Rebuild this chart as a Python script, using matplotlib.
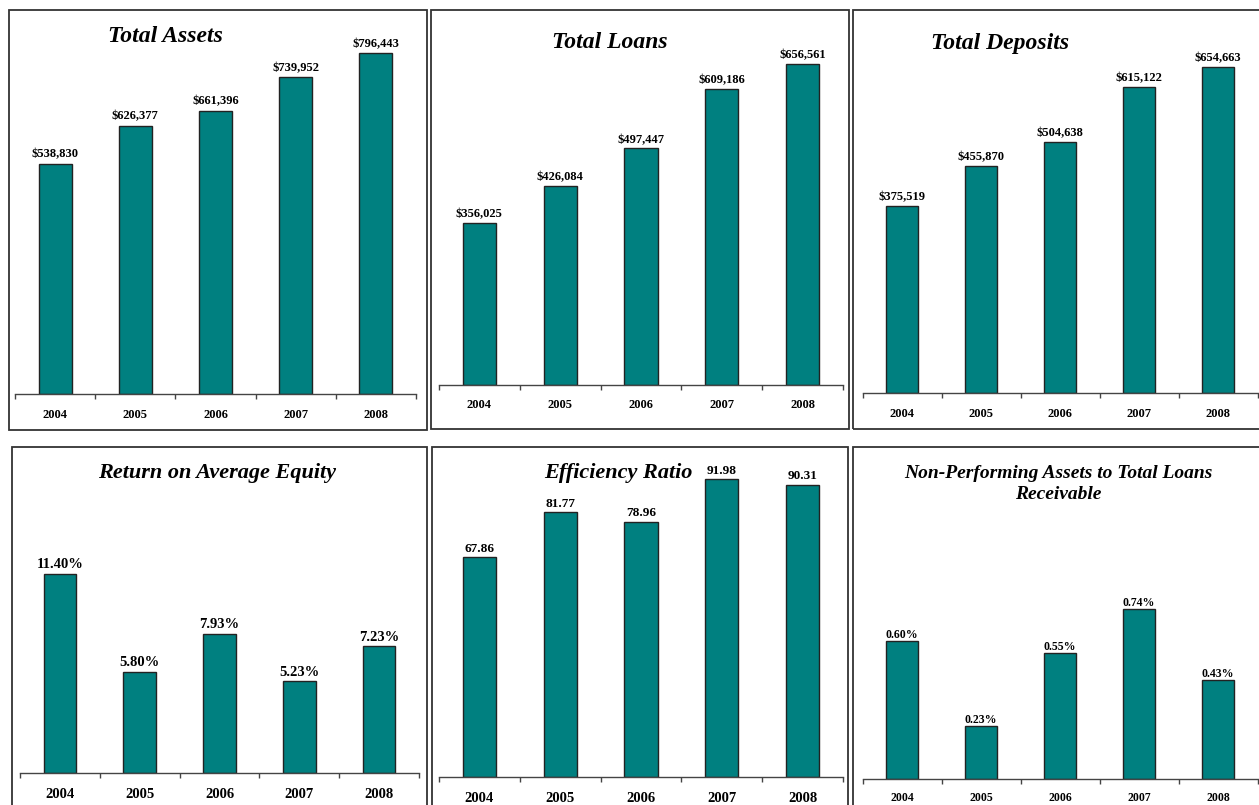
import matplotlib
matplotlib.use("Agg")
import matplotlib.pyplot as plt
from matplotlib.patches import Rectangle

plt.rcParams['font.family'] = ['Liberation Serif', 'DejaVu Serif']
plt.rcParams['font.weight'] = 'bold'

years = ['2004', '2005', '2006', '2007', '2008']

total_assets = [538830, 626377, 661396, 739952, 796443]
total_loans = [356025, 426084, 497447, 609186, 656561]
total_deposits = [375519, 455870, 504638, 615122, 654663]
roae = [11.40, 5.80, 7.93, 5.23, 7.23]
efficiency = [67.86, 81.77, 78.96, 91.98, 90.31]
npa_ratio = [0.60, 0.23, 0.55, 0.74, 0.43]

W, H = 1259, 805
fig = plt.figure(figsize=(W / 100, H / 100), dpi=100)

TEAL = '#008080'
EDGE = '#222222'


def box(x0, y0, x1, y1):
    # panel frame, in pixel coords
    fig.add_artist(Rectangle((x0 / W, 1 - y1 / H), (x1 - x0) / W, (y1 - y0) / H,
                             transform=fig.transFigure, fill=False,
                             ec='#333333', lw=1.3))


def panel(x0, x1, base, top, vals, ylim, labels, lab_size, year_size, year_pad, lab_off=2):
    ax = fig.add_axes([x0 / W, 1 - base / H, (x1 - x0) / W, (base - top) / H])
    ax.patch.set_visible(False)
    ax.bar(range(5), [v - ylim[0] for v in vals], bottom=ylim[0], width=0.41,
           color=TEAL, edgecolor=EDGE, linewidth=1.0)
    ax.set_xlim(-0.5, 4.5)
    ax.set_ylim(*ylim)
    for s in ['top', 'left', 'right']:
        ax.spines[s].set_visible(False)
    ax.spines['bottom'].set_color('#444444')
    ax.spines['bottom'].set_linewidth(1.0)
    ax.set_yticks([])
    ax.set_xticks(range(5), years)
    ax.set_xticks([i - 0.5 for i in range(6)], minor=True)
    ax.tick_params(axis='x', which='major', length=0, pad=year_pad,
                   labelsize=year_size)
    ax.tick_params(axis='x', which='minor', length=3.5, width=1.0,
                   color='#444444', direction='out')
    for i, (v, t) in enumerate(zip(vals, labels)):
        ax.annotate(t, (i, v), xytext=(0, lab_off), textcoords='offset points',
                    ha='center', va='bottom', fontsize=lab_size,
                    fontweight='bold', annotation_clip=False)
    return ax


def title(x, y, text, size, ls=1.2):
    fig.text(x / W, 1 - y / H, text, ha='center', va='center', fontsize=size,
             fontweight='bold', fontstyle='italic', linespacing=ls)


# frames
box(9, 10, 427, 430)
box(431, 10, 849, 429)
box(853, 10, 1265, 429)
box(12, 447, 427, 812)
box(432, 447, 848, 812)
box(853, 447, 1265, 812)

money = lambda vs: ['${:,.0f}'.format(v) for v in vs]

panel(15, 416, 394, 9, total_assets, (0, 900000), money(total_assets), 9, 9, 10.5, 2.5)
panel(439, 843, 385, 15, total_loans, (50000, 750000), money(total_loans), 9, 9, 10)
panel(862.5, 1257.5, 393, 19.5, total_deposits, (0, 750000), money(total_deposits), 9, 9, 10.5)
panel(20, 419, 773, 458, roae, (0, 18), ['{:.2f}%'.format(v) for v in roae], 10.5, 10.5, 11)
panel(439, 843, 777, 453.5, efficiency, (0, 100), ['{:.2f}'.format(v) for v in efficiency], 9.5, 10.5, 11)
panel(862.5, 1257.5, 779, 457, npa_ratio, (0, 1.4), ['{:.2f}%'.format(v) for v in npa_ratio], 8.5, 8.5, 9.5, 0)

title(165, 37, 'Total Assets', 17)
title(610, 42, 'Total Loans', 17)
title(1000, 44, 'Total Deposits', 17)
title(217, 473, 'Return on Average Equity', 16)
title(618, 473, 'Efficiency Ratio', 16)
title(1058, 484, 'Non-Performing Assets to Total Loans\nReceivable', 14, 1.35)

fig.savefig('out.png', dpi=100)
